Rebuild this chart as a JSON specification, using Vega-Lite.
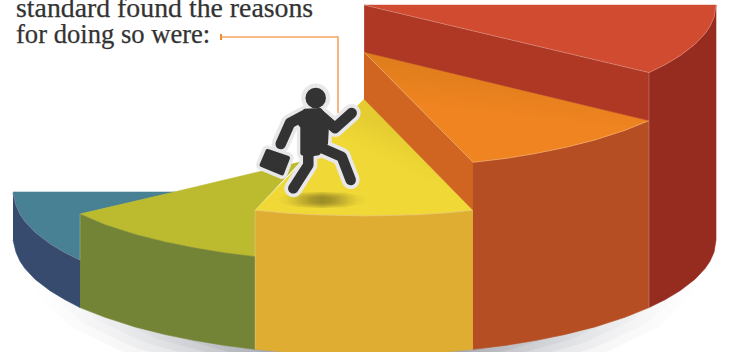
{
  "$schema": "https://vega.github.io/schema/vega-lite/v6.json",
  "width": 729, "height": 352, "padding": 0, "autosize": "none",
  "background": "#ffffff",
  "view": {"stroke": null},
  "encoding": {
    "x": {"field": "x", "type": "quantitative", "axis": null, "scale": {"domain": [0, 729], "nice": false, "zero": false}},
    "y": {"field": "y", "type": "quantitative", "axis": null, "scale": {"domain": [352, 0], "nice": false, "zero": false}},
    "order": {"field": "i", "type": "quantitative"}
  },
  "datasets": {
    "ground": [
      {"ring":"r1","i":0,"x":27,"y":265},{"ring":"r1","i":1,"x":38.5,"y":297.4},{"ring":"r1","i":2,"x":72.3,"y":327.5},{"ring":"r1","i":3,"x":126,"y":353.4},{"ring":"r1","i":4,"x":196,"y":373.3},{"ring":"r1","i":5,"x":277.5,"y":385.8},{"ring":"r1","i":6,"x":365,"y":390},{"ring":"r1","i":7,"x":452.5,"y":385.8},{"ring":"r1","i":8,"x":534,"y":373.3},{"ring":"r1","i":9,"x":604,"y":353.4},{"ring":"r1","i":10,"x":657.7,"y":327.5},{"ring":"r1","i":11,"x":691.5,"y":297.4},{"ring":"r1","i":12,"x":703,"y":265},
      {"ring":"r2","i":0,"x":40,"y":265},{"ring":"r2","i":1,"x":51,"y":295.3},{"ring":"r2","i":2,"x":83.6,"y":323.5},{"ring":"r2","i":3,"x":135.2,"y":347.7},{"ring":"r2","i":4,"x":202.5,"y":366.3},{"ring":"r2","i":5,"x":280.8,"y":378},{"ring":"r2","i":6,"x":365,"y":382},{"ring":"r2","i":7,"x":449.2,"y":378},{"ring":"r2","i":8,"x":527.5,"y":366.3},{"ring":"r2","i":9,"x":594.8,"y":347.7},{"ring":"r2","i":10,"x":646.4,"y":323.5},{"ring":"r2","i":11,"x":679,"y":295.3},{"ring":"r2","i":12,"x":690,"y":265},
      {"ring":"r3","i":0,"x":55,"y":265},{"ring":"r3","i":1,"x":65.5,"y":293.5},{"ring":"r3","i":2,"x":96.5,"y":320},{"ring":"r3","i":3,"x":145.8,"y":342.8},{"ring":"r3","i":4,"x":210,"y":360.3},{"ring":"r3","i":5,"x":284.7,"y":371.3},{"ring":"r3","i":6,"x":365,"y":375},{"ring":"r3","i":7,"x":445.3,"y":371.3},{"ring":"r3","i":8,"x":520,"y":360.3},{"ring":"r3","i":9,"x":584.2,"y":342.8},{"ring":"r3","i":10,"x":633.5,"y":320},{"ring":"r3","i":11,"x":664.5,"y":293.5},{"ring":"r3","i":12,"x":675,"y":265},
      {"ring":"r4","i":0,"x":73,"y":265},{"ring":"r4","i":1,"x":82.9,"y":292.2},{"ring":"r4","i":2,"x":112.1,"y":317.5},{"ring":"r4","i":3,"x":158.6,"y":339.2},{"ring":"r4","i":4,"x":219,"y":355.9},{"ring":"r4","i":5,"x":289.4,"y":366.4},{"ring":"r4","i":6,"x":365,"y":370},{"ring":"r4","i":7,"x":440.6,"y":366.4},{"ring":"r4","i":8,"x":511,"y":355.9},{"ring":"r4","i":9,"x":571.4,"y":339.2},{"ring":"r4","i":10,"x":617.9,"y":317.5},{"ring":"r4","i":11,"x":647.1,"y":292.2},{"ring":"r4","i":12,"x":657,"y":265},
      {"ring":"r5","i":0,"x":95,"y":265},{"ring":"r5","i":1,"x":104.2,"y":291.2},{"ring":"r5","i":2,"x":131.2,"y":315.5},{"ring":"r5","i":3,"x":174.1,"y":336.4},{"ring":"r5","i":4,"x":230,"y":352.5},{"ring":"r5","i":5,"x":295.1,"y":362.6},{"ring":"r5","i":6,"x":365,"y":366},{"ring":"r5","i":7,"x":434.9,"y":362.6},{"ring":"r5","i":8,"x":500,"y":352.5},{"ring":"r5","i":9,"x":555.9,"y":336.4},{"ring":"r5","i":10,"x":598.8,"y":315.5},{"ring":"r5","i":11,"x":625.8,"y":291.2},{"ring":"r5","i":12,"x":635,"y":265},
      {"ring":"r6","i":0,"x":125,"y":265},{"ring":"r6","i":1,"x":133.2,"y":290.1},{"ring":"r6","i":2,"x":157.2,"y":313.5},{"ring":"r6","i":3,"x":195.3,"y":333.6},{"ring":"r6","i":4,"x":245,"y":349},{"ring":"r6","i":5,"x":302.8,"y":358.7},{"ring":"r6","i":6,"x":365,"y":362},{"ring":"r6","i":7,"x":427.2,"y":358.7},{"ring":"r6","i":8,"x":485,"y":349},{"ring":"r6","i":9,"x":534.7,"y":333.6},{"ring":"r6","i":10,"x":572.8,"y":313.5},{"ring":"r6","i":11,"x":596.8,"y":290.1},{"ring":"r6","i":12,"x":605,"y":265}
    ],
    "facets": [
      {"facet":"tealTop","i":0,"x":13,"y":192},{"facet":"tealTop","i":1,"x":175,"y":192},{"facet":"tealTop","i":2,"x":80,"y":214},{"facet":"tealTop","i":3,"x":80,"y":260},{"facet":"tealTop","i":4,"x":65,"y":252.7},{"facet":"tealTop","i":5,"x":50,"y":243.7},{"facet":"tealTop","i":6,"x":35,"y":232.2},{"facet":"tealTop","i":7,"x":25,"y":221.6},{"facet":"tealTop","i":8,"x":20,"y":214.2},{"facet":"tealTop","i":9,"x":16,"y":205.3},{"facet":"tealTop","i":10,"x":13,"y":193},
      {"facet":"navySide","i":0,"x":13,"y":193},{"facet":"navySide","i":1,"x":16,"y":205.3},{"facet":"navySide","i":2,"x":20,"y":214.2},{"facet":"navySide","i":3,"x":25,"y":221.6},{"facet":"navySide","i":4,"x":35,"y":232.2},{"facet":"navySide","i":5,"x":50,"y":243.7},{"facet":"navySide","i":6,"x":65,"y":252.7},{"facet":"navySide","i":7,"x":80,"y":260},{"facet":"navySide","i":8,"x":80,"y":307.6},{"facet":"navySide","i":9,"x":65,"y":299.7},{"facet":"navySide","i":10,"x":50,"y":290.7},{"facet":"navySide","i":11,"x":35,"y":279.2},{"facet":"navySide","i":12,"x":25,"y":268.6},{"facet":"navySide","i":13,"x":20,"y":261.2},{"facet":"navySide","i":14,"x":16,"y":252.3},{"facet":"navySide","i":15,"x":13,"y":240},
      {"facet":"oliveTop","i":0,"x":80,"y":214},{"facet":"oliveTop","i":1,"x":170,"y":193},{"facet":"oliveTop","i":2,"x":300,"y":162},{"facet":"oliveTop","i":3,"x":255,"y":210},{"facet":"oliveTop","i":4,"x":255,"y":256.7},{"facet":"oliveTop","i":5,"x":225,"y":253},{"facet":"oliveTop","i":6,"x":195,"y":248.1},{"facet":"oliveTop","i":7,"x":165,"y":242},{"facet":"oliveTop","i":8,"x":135,"y":234.4},{"facet":"oliveTop","i":9,"x":105,"y":224.8},
      {"facet":"oliveSide","i":0,"x":80,"y":214},{"facet":"oliveSide","i":1,"x":105,"y":224.8},{"facet":"oliveSide","i":2,"x":135,"y":234.4},{"facet":"oliveSide","i":3,"x":165,"y":242},{"facet":"oliveSide","i":4,"x":195,"y":248.1},{"facet":"oliveSide","i":5,"x":225,"y":253},{"facet":"oliveSide","i":6,"x":255,"y":256.7},{"facet":"oliveSide","i":7,"x":255,"y":349.2},{"facet":"oliveSide","i":8,"x":225,"y":345.5},{"facet":"oliveSide","i":9,"x":195,"y":340.6},{"facet":"oliveSide","i":10,"x":165,"y":334.5},{"facet":"oliveSide","i":11,"x":135,"y":326.9},{"facet":"oliveSide","i":12,"x":105,"y":317.3},{"facet":"oliveSide","i":13,"x":80,"y":307.6},
      {"facet":"yellowTop","i":0,"x":364,"y":99},{"facet":"yellowTop","i":1,"x":473,"y":210.2},{"facet":"yellowTop","i":2,"x":445,"y":213},{"facet":"yellowTop","i":3,"x":415,"y":214.8},{"facet":"yellowTop","i":4,"x":365,"y":216},{"facet":"yellowTop","i":5,"x":315,"y":214.8},{"facet":"yellowTop","i":6,"x":285,"y":213},{"facet":"yellowTop","i":7,"x":255,"y":210.2},
      {"facet":"goldSide","i":0,"x":255,"y":210.2},{"facet":"goldSide","i":1,"x":285,"y":213},{"facet":"goldSide","i":2,"x":315,"y":214.8},{"facet":"goldSide","i":3,"x":365,"y":216},{"facet":"goldSide","i":4,"x":415,"y":214.8},{"facet":"goldSide","i":5,"x":445,"y":213},{"facet":"goldSide","i":6,"x":473,"y":210.2},{"facet":"goldSide","i":7,"x":473,"y":349.3},{"facet":"goldSide","i":8,"x":445,"y":352},{"facet":"goldSide","i":9,"x":415,"y":353.8},{"facet":"goldSide","i":10,"x":365,"y":355},{"facet":"goldSide","i":11,"x":315,"y":353.8},{"facet":"goldSide","i":12,"x":285,"y":352},{"facet":"goldSide","i":13,"x":255,"y":349.2},
      {"facet":"orangeWall","i":0,"x":364,"y":52},{"facet":"orangeWall","i":1,"x":473,"y":162.3},{"facet":"orangeWall","i":2,"x":473,"y":210.2},{"facet":"orangeWall","i":3,"x":364,"y":99},
      {"facet":"orangeSide","i":0,"x":473,"y":162.3},{"facet":"orangeSide","i":1,"x":505,"y":158.5},{"facet":"orangeSide","i":2,"x":535,"y":153.6},{"facet":"orangeSide","i":3,"x":565,"y":147.5},{"facet":"orangeSide","i":4,"x":595,"y":139.9},{"facet":"orangeSide","i":5,"x":625,"y":130.3},{"facet":"orangeSide","i":6,"x":649,"y":120.6},{"facet":"orangeSide","i":7,"x":649,"y":307.6},{"facet":"orangeSide","i":8,"x":625,"y":317.3},{"facet":"orangeSide","i":9,"x":595,"y":326.9},{"facet":"orangeSide","i":10,"x":565,"y":334.5},{"facet":"orangeSide","i":11,"x":535,"y":340.6},{"facet":"orangeSide","i":12,"x":505,"y":345.5},{"facet":"orangeSide","i":13,"x":473,"y":349.3},
      {"facet":"orangeTop","i":0,"x":364,"y":52},{"facet":"orangeTop","i":1,"x":649,"y":120.6},{"facet":"orangeTop","i":2,"x":625,"y":130.3},{"facet":"orangeTop","i":3,"x":595,"y":139.9},{"facet":"orangeTop","i":4,"x":565,"y":147.5},{"facet":"orangeTop","i":5,"x":535,"y":153.6},{"facet":"orangeTop","i":6,"x":505,"y":158.5},{"facet":"orangeTop","i":7,"x":473,"y":162.3},
      {"facet":"redWall","i":0,"x":364,"y":5},{"facet":"redWall","i":1,"x":649,"y":72.6},{"facet":"redWall","i":2,"x":649,"y":120.6},{"facet":"redWall","i":3,"x":364,"y":52},
      {"facet":"redSide","i":0,"x":649,"y":72.6},{"facet":"redSide","i":1,"x":665,"y":64.7},{"facet":"redSide","i":2,"x":680,"y":55.7},{"facet":"redSide","i":3,"x":695,"y":44.2},{"facet":"redSide","i":4,"x":705,"y":33.6},{"facet":"redSide","i":5,"x":710,"y":26.2},{"facet":"redSide","i":6,"x":714,"y":17.3},{"facet":"redSide","i":7,"x":716,"y":5},{"facet":"redSide","i":8,"x":716,"y":240},{"facet":"redSide","i":9,"x":714,"y":252.3},{"facet":"redSide","i":10,"x":710,"y":261.2},{"facet":"redSide","i":11,"x":705,"y":268.6},{"facet":"redSide","i":12,"x":695,"y":279.2},{"facet":"redSide","i":13,"x":680,"y":290.7},{"facet":"redSide","i":14,"x":665,"y":299.7},{"facet":"redSide","i":15,"x":649,"y":307.6},
      {"facet":"redTop","i":0,"x":364,"y":5},{"facet":"redTop","i":1,"x":716,"y":5},{"facet":"redTop","i":2,"x":714,"y":17.3},{"facet":"redTop","i":3,"x":710,"y":26.2},{"facet":"redTop","i":4,"x":705,"y":33.6},{"facet":"redTop","i":5,"x":695,"y":44.2},{"facet":"redTop","i":6,"x":680,"y":55.7},{"facet":"redTop","i":7,"x":665,"y":64.7},{"facet":"redTop","i":8,"x":649,"y":72.6}
    ],
    "edges": [
      {"edge":"a","i":0,"x":364,"y":5},{"edge":"a","i":1,"x":649,"y":72.6},{"edge":"a","i":2,"x":665,"y":64.7},{"edge":"a","i":3,"x":680,"y":55.7},{"edge":"a","i":4,"x":695,"y":44.2},{"edge":"a","i":5,"x":705,"y":33.6},{"edge":"a","i":6,"x":710,"y":26.2},{"edge":"a","i":7,"x":714,"y":17.3},{"edge":"a","i":8,"x":716,"y":5},
      {"edge":"b","i":0,"x":649,"y":72.6},{"edge":"b","i":1,"x":649,"y":307.6},
      {"edge":"c","i":0,"x":364,"y":5},{"edge":"c","i":1,"x":364,"y":52},{"edge":"c","i":2,"x":473,"y":162.3},{"edge":"c","i":3,"x":505,"y":158.5},{"edge":"c","i":4,"x":535,"y":153.6},{"edge":"c","i":5,"x":565,"y":147.5},{"edge":"c","i":6,"x":595,"y":139.9},{"edge":"c","i":7,"x":625,"y":130.3},{"edge":"c","i":8,"x":649,"y":120.6},
      {"edge":"d","i":0,"x":364,"y":4.5},{"edge":"d","i":1,"x":716,"y":4.5},
      {"edge":"e","i":0,"x":255,"y":210.2},{"edge":"e","i":1,"x":255,"y":349.2},
      {"edge":"f","i":0,"x":13,"y":193},{"edge":"f","i":1,"x":16,"y":205.3},{"edge":"f","i":2,"x":20,"y":214.2},{"edge":"f","i":3,"x":25,"y":221.6},{"edge":"f","i":4,"x":35,"y":232.2},{"edge":"f","i":5,"x":50,"y":243.7},{"edge":"f","i":6,"x":65,"y":252.7},{"edge":"f","i":7,"x":80,"y":260},{"edge":"f","i":8,"x":80,"y":214},
      {"edge":"g","i":0,"x":255,"y":210.2},{"edge":"g","i":1,"x":285,"y":213},{"edge":"g","i":2,"x":315,"y":214.8},{"edge":"g","i":3,"x":365,"y":216},{"edge":"g","i":4,"x":415,"y":214.8},{"edge":"g","i":5,"x":445,"y":213},{"edge":"g","i":6,"x":473,"y":210.2}
    ],
    "footShadow": [
      {"ring":"e1","i":0,"x":368,"y":200},{"ring":"e1","i":1,"x":361.8,"y":204},{"ring":"e1","i":2,"x":345,"y":206.9},{"ring":"e1","i":3,"x":322,"y":208},{"ring":"e1","i":4,"x":299,"y":206.9},{"ring":"e1","i":5,"x":282.2,"y":204},{"ring":"e1","i":6,"x":276,"y":200},{"ring":"e1","i":7,"x":282.2,"y":196},{"ring":"e1","i":8,"x":299,"y":193.1},{"ring":"e1","i":9,"x":322,"y":192},{"ring":"e1","i":10,"x":345,"y":193.1},{"ring":"e1","i":11,"x":361.8,"y":196},
      {"ring":"e2","i":0,"x":358,"y":200},{"ring":"e2","i":1,"x":353.2,"y":203.3},{"ring":"e2","i":2,"x":340,"y":205.6},{"ring":"e2","i":3,"x":322,"y":206.5},{"ring":"e2","i":4,"x":304,"y":205.6},{"ring":"e2","i":5,"x":290.8,"y":203.3},{"ring":"e2","i":6,"x":286,"y":200},{"ring":"e2","i":7,"x":290.8,"y":196.8},{"ring":"e2","i":8,"x":304,"y":194.4},{"ring":"e2","i":9,"x":322,"y":193.5},{"ring":"e2","i":10,"x":340,"y":194.4},{"ring":"e2","i":11,"x":353.2,"y":196.8},
      {"ring":"e3","i":0,"x":349,"y":200},{"ring":"e3","i":1,"x":345.4,"y":202.5},{"ring":"e3","i":2,"x":335.5,"y":204.3},{"ring":"e3","i":3,"x":322,"y":205},{"ring":"e3","i":4,"x":308.5,"y":204.3},{"ring":"e3","i":5,"x":298.6,"y":202.5},{"ring":"e3","i":6,"x":295,"y":200},{"ring":"e3","i":7,"x":298.6,"y":197.5},{"ring":"e3","i":8,"x":308.5,"y":195.7},{"ring":"e3","i":9,"x":322,"y":195},{"ring":"e3","i":10,"x":335.5,"y":195.7},{"ring":"e3","i":11,"x":345.4,"y":197.5},
      {"ring":"e4","i":0,"x":340,"y":200},{"ring":"e4","i":1,"x":337.6,"y":201.8},{"ring":"e4","i":2,"x":331,"y":203},{"ring":"e4","i":3,"x":322,"y":203.5},{"ring":"e4","i":4,"x":313,"y":203},{"ring":"e4","i":5,"x":306.4,"y":201.8},{"ring":"e4","i":6,"x":304,"y":200},{"ring":"e4","i":7,"x":306.4,"y":198.2},{"ring":"e4","i":8,"x":313,"y":197},{"ring":"e4","i":9,"x":322,"y":196.5},{"ring":"e4","i":10,"x":331,"y":197},{"ring":"e4","i":11,"x":337.6,"y":198.2}
    ],
    "callout": [
      {"i":0,"x":221,"y":37},{"i":1,"x":338,"y":37},{"i":2,"x":338,"y":113}
    ],
    "calloutTick": [
      {"i":0,"x":221,"y":34},{"i":1,"x":221,"y":40}
    ],
    "limbs": [
      {"part":"armLeft","i":0,"x":305,"y":115},{"part":"armLeft","i":1,"x":290,"y":123},{"part":"armLeft","i":2,"x":280.7,"y":144},
      {"part":"armRight","i":0,"x":320,"y":115},{"part":"armRight","i":1,"x":335,"y":128},{"part":"armRight","i":2,"x":351.7,"y":113},
      {"part":"legLeft","i":0,"x":308.3,"y":153.3},{"part":"legLeft","i":1,"x":308.3,"y":165},{"part":"legLeft","i":2,"x":293.3,"y":188.3},
      {"part":"legRight","i":0,"x":315,"y":145},{"part":"legRight","i":1,"x":341.7,"y":156.7},{"part":"legRight","i":2,"x":350.7,"y":180}
    ],
    "solids": [
      {"part":"torso","i":0,"x":305,"y":110.7},{"part":"torso","i":1,"x":320,"y":110},{"part":"torso","i":2,"x":327.3,"y":120},{"part":"torso","i":3,"x":326,"y":143.3},{"part":"torso","i":4,"x":318.3,"y":153.3},{"part":"torso","i":5,"x":308.3,"y":155},{"part":"torso","i":6,"x":302.3,"y":153.3},{"part":"torso","i":7,"x":302.3,"y":126.7},{"part":"torso","i":8,"x":295,"y":118.3},
      {"part":"briefcase","i":0,"x":267.5,"y":151},{"part":"briefcase","i":1,"x":288,"y":158},{"part":"briefcase","i":2,"x":282,"y":173.5},{"part":"briefcase","i":3,"x":261.5,"y":165},{"part":"briefcase","i":4,"x":267.5,"y":151}
    ],
    "head": [{"x":315.7,"y":98,"i":0}],
    "caption": [
      {"x":16,"y":17,"i":0,"line":"standard found the reasons"},
      {"x":16,"y":43,"i":1,"line":"for doing so were:"}
    ]
  },
  "layer": [
    {"data": {"name": "ground"},
     "mark": {"type": "line", "clip": true, "stroke": "transparent", "strokeWidth": 0,
       "fill": {"gradient": "linear", "x1": 0, "y1": 0, "x2": 1, "y2": 0, "stops": [
         {"offset": 0, "color": "rgba(58,64,80,0)"},
         {"offset": 0.2, "color": "rgba(58,64,80,0.06)"},
         {"offset": 0.35, "color": "rgba(58,64,80,0.1)"},
         {"offset": 0.5, "color": "rgba(58,64,80,0.12)"},
         {"offset": 0.65, "color": "rgba(58,64,80,0.1)"},
         {"offset": 0.8, "color": "rgba(58,64,80,0.06)"},
         {"offset": 1, "color": "rgba(58,64,80,0)"}]}},
     "encoding": {"detail": {"field": "ring"}}},
    {"data": {"name": "facets"},
     "mark": {"type": "line", "clip": true, "strokeWidth": 0.6, "strokeJoin": "round"},
     "encoding": {
       "detail": {"field": "facet"},
       "fill": {"field": "facet", "type": "nominal", "legend": null, "scale": {
         "domain": ["tealTop","navySide","oliveTop","oliveSide","yellowTop","goldSide","orangeWall","orangeSide","orangeTop","redWall","redSide","redTop"],
         "range": ["#488094","#364B6D","#BCBA2E","#748437","#F0D936","#DFAD32","#CF6520","#B64E23","#EF8420","#AE3824","#962C20","#D14B31"]}},
       "stroke": {"field": "facet", "type": "nominal", "legend": null, "scale": {
         "domain": ["tealTop","navySide","oliveTop","oliveSide","yellowTop","goldSide","orangeWall","orangeSide","orangeTop","redWall","redSide","redTop"],
         "range": ["#488094","#364B6D","#BCBA2E","#748437","#F0D936","#DFAD32","#CF6520","#B64E23","#EF8420","#AE3824","#962C20","#D14B31"]}}
     }},
    {"data": {"name": "facets"},
     "transform": [{"filter": "datum.facet === 'orangeTop'"}],
     "mark": {"type": "line", "stroke": "transparent", "strokeWidth": 0,
       "fill": {"gradient": "linear", "x1": 0.55, "y1": 0.1, "x2": 0.42, "y2": 0.55, "stops": [
         {"offset": 0, "color": "rgba(190,110,20,0.4)"},
         {"offset": 1, "color": "rgba(190,110,20,0)"}]}},
     "encoding": {"detail": {"field": "facet"}}},
    {"data": {"name": "facets"},
     "transform": [{"filter": "datum.facet === 'yellowTop'"}],
     "mark": {"type": "line", "stroke": "transparent", "strokeWidth": 0,
       "fill": {"gradient": "linear", "x1": 0.85, "y1": 0.45, "x2": 0.7, "y2": 0.62, "stops": [
         {"offset": 0, "color": "rgba(190,160,30,0.22)"},
         {"offset": 1, "color": "rgba(190,160,30,0)"}]}},
     "encoding": {"detail": {"field": "facet"}}},
    {"data": {"name": "edges"},
     "mark": {"type": "line", "clip": true, "stroke": "#ffffff", "strokeOpacity": 0.3, "strokeWidth": 0.8},
     "encoding": {"detail": {"field": "edge"}}},
    {"data": {"name": "footShadow"},
     "mark": {"type": "line", "stroke": "transparent", "strokeWidth": 0,
       "fill": {"gradient": "linear", "x1": 0, "y1": 0, "x2": 1, "y2": 0, "stops": [
         {"offset": 0, "color": "rgba(107,95,31,0)"},
         {"offset": 0.25, "color": "rgba(107,95,31,0.16)"},
         {"offset": 0.5, "color": "rgba(107,95,31,0.22)"},
         {"offset": 0.75, "color": "rgba(107,95,31,0.16)"},
         {"offset": 1, "color": "rgba(107,95,31,0)"}]}},
     "encoding": {"detail": {"field": "ring"}}},
    {"data": {"name": "callout"},
     "mark": {"type": "line", "stroke": "#F6A460", "strokeWidth": 1.6}},
    {"data": {"name": "calloutTick"},
     "mark": {"type": "line", "stroke": "#F28A30", "strokeWidth": 2}},
    {"data": {"name": "limbs"},
     "mark": {"type": "line", "stroke": "#E8E8EA", "strokeWidth": 18, "strokeCap": "round", "strokeJoin": "round"},
     "encoding": {"detail": {"field": "part"}}},
    {"data": {"name": "solids"},
     "mark": {"type": "line", "fill": "#E8E8EA", "stroke": "#E8E8EA", "strokeWidth": 11, "strokeCap": "round", "strokeJoin": "round"},
     "encoding": {"detail": {"field": "part"}}},
    {"data": {"name": "head"},
     "mark": {"type": "point", "filled": true, "shape": "circle", "size": 841, "color": "#E8E8EA", "opacity": 1}},
    {"data": {"name": "limbs"},
     "mark": {"type": "line", "stroke": "#333333", "strokeWidth": 10.5, "strokeCap": "round", "strokeJoin": "round"},
     "encoding": {"detail": {"field": "part"}}},
    {"data": {"name": "solids"},
     "mark": {"type": "line", "fill": "#333333", "stroke": "#333333", "strokeWidth": 4, "strokeCap": "round", "strokeJoin": "round"},
     "encoding": {"detail": {"field": "part"}}},
    {"data": {"name": "head"},
     "mark": {"type": "point", "filled": true, "shape": "circle", "size": 420, "color": "#333333", "opacity": 1}},
    {"data": {"name": "caption"},
     "transform": [{"filter": "datum.i === 0"}],
     "mark": {"type": "text", "align": "left", "baseline": "alphabetic", "font": "Liberation Serif", "fontSize": 27.8, "color": "#333333", "stroke": "#333333", "strokeWidth": 0.25},
     "encoding": {"text": {"field": "line"}}},
    {"data": {"name": "caption"},
     "transform": [{"filter": "datum.i === 1"}],
     "mark": {"type": "text", "align": "left", "baseline": "alphabetic", "font": "Liberation Serif", "fontSize": 26.6, "color": "#333333", "stroke": "#333333", "strokeWidth": 0.25},
     "encoding": {"text": {"field": "line"}}}
  ]
}
